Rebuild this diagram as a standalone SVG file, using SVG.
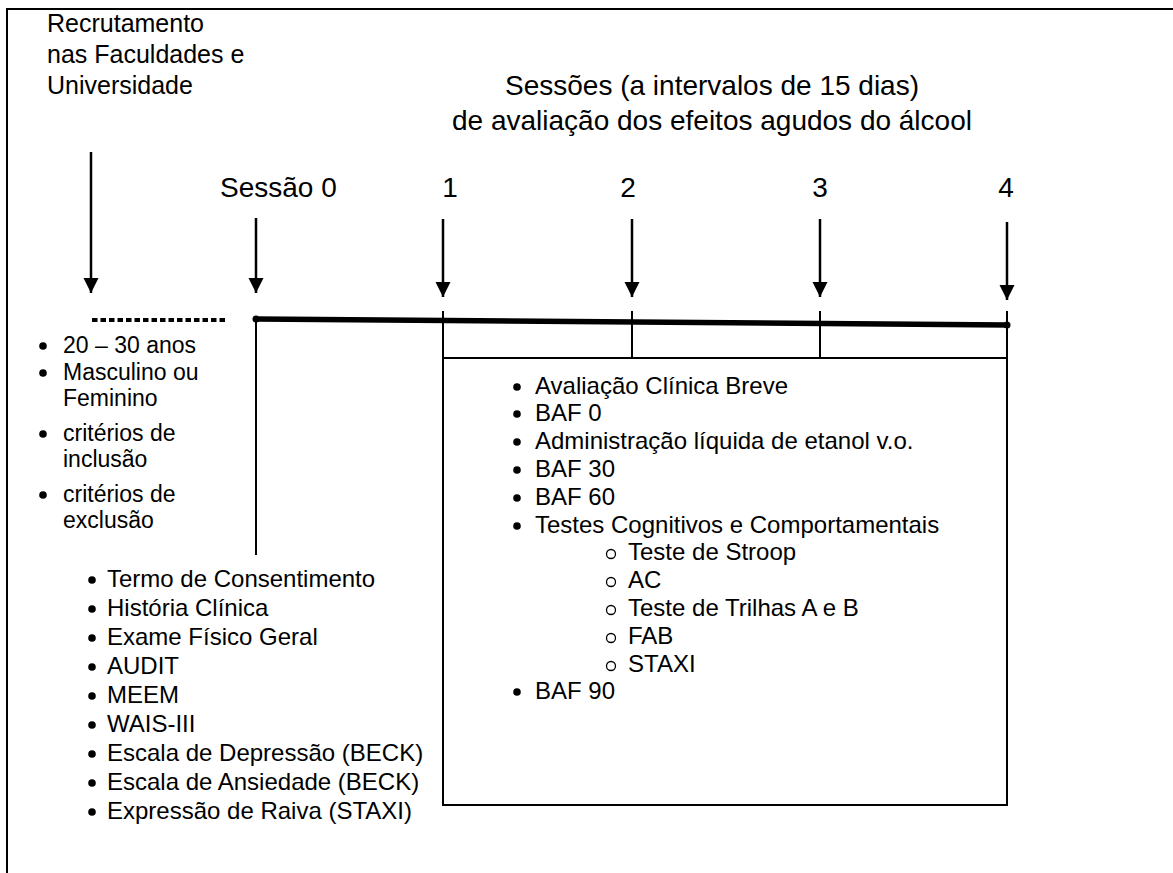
<svg xmlns="http://www.w3.org/2000/svg" width="1173" height="873" viewBox="0 0 1173 873">
<style>
text{font-family:"Liberation Sans",Arial,sans-serif;fill:#000}
.t{font-size:25px}
.h{font-size:28px}
.l{font-size:24px}
.s{font-size:23px}
.ln{stroke:#000;stroke-width:2;fill:none}
.ar{stroke:#000;stroke-width:2.5;fill:none}
.b{fill:#000}
.o{fill:none;stroke:#000;stroke-width:1.3}
</style>
<defs>
<marker id="ah" viewBox="0 0 10 10" refX="10" refY="5" markerWidth="6" markerHeight="6.5" markerUnits="strokeWidth" orient="auto"><path d="M0,0 L10,5 L0,10 z" fill="#000"/></marker>
</defs>
<rect width="1173" height="873" fill="#fff"/>
<path class="ln" d="M7,873 V9 H1173"/>

<g id="recrutamento">
<text class="t" x="47" y="32">Recrutamento</text>
<text class="t" x="47" y="63">nas Faculdades e</text>
<text class="t" x="47" y="94">Universidade</text>
</g>

<g id="titulo">
<text class="h" x="712" y="95" text-anchor="middle">Sessões (a intervalos de 15 dias)</text>
<text class="h" x="712" y="130" text-anchor="middle">de avaliação dos efeitos agudos do álcool</text>
</g>

<g id="labels">
<text class="h" x="220" y="197">Sessão 0</text>
<text class="h" x="450" y="197" text-anchor="middle">1</text>
<text class="h" x="628" y="197" text-anchor="middle">2</text>
<text class="h" x="820" y="197" text-anchor="middle">3</text>
<text class="h" x="1006" y="197" text-anchor="middle">4</text>
</g>

<g id="connectors">
<line class="ar" x1="91" y1="152" x2="91" y2="293" marker-end="url(#ah)"/>
<line class="ar" x1="256" y1="218" x2="256" y2="293" marker-end="url(#ah)"/>
<line class="ar" x1="443" y1="219" x2="443" y2="297" marker-end="url(#ah)"/>
<line class="ar" x1="632" y1="219" x2="632" y2="297" marker-end="url(#ah)"/>
<line class="ar" x1="820" y1="219" x2="820" y2="297" marker-end="url(#ah)"/>
<line class="ar" x1="1007" y1="222" x2="1007" y2="300" marker-end="url(#ah)"/>
<line x1="92" y1="320" x2="228" y2="320" stroke="#000" stroke-width="4" stroke-dasharray="5.5 3"/>
<line x1="256" y1="319" x2="1007" y2="325" stroke="#000" stroke-width="5.5"/>
<circle cx="256" cy="319" r="3.5" class="b"/>
<circle cx="1007" cy="325" r="3.5" class="b"/>
<line class="ln" x1="256" y1="319" x2="256" y2="555"/>
</g>

<g id="box">
<path class="ln" d="M443,311 V805 H1007 V311 M443,358 H1007 M632,311 V358 M820,311 V358"/>
</g>

<g id="criterios">
<circle class="b" cx="43" cy="346" r="3.8"/>
<text class="s" x="63" y="353">20 – 30 anos</text>
<circle class="b" cx="43" cy="373" r="3.8"/>
<text class="s" x="63" y="380">Masculino ou</text>
<text class="s" x="63" y="406">Feminino</text>
<circle class="b" cx="43" cy="434" r="3.8"/>
<text class="s" x="63" y="441">critérios de</text>
<text class="s" x="63" y="467">inclusão</text>
<circle class="b" cx="43" cy="495" r="3.8"/>
<text class="s" x="63" y="502">critérios de</text>
<text class="s" x="63" y="528">exclusão</text>
</g>

<g id="sessao0">
<circle class="b" cx="92" cy="580" r="3.8"/><text class="l" x="107" y="587">Termo de Consentimento</text>
<circle class="b" cx="92" cy="609" r="3.8"/><text class="l" x="107" y="616">História Clínica</text>
<circle class="b" cx="92" cy="638" r="3.8"/><text class="l" x="107" y="645">Exame Físico Geral</text>
<circle class="b" cx="92" cy="667" r="3.8"/><text class="l" x="107" y="674">AUDIT</text>
<circle class="b" cx="92" cy="696" r="3.8"/><text class="l" x="107" y="703">MEEM</text>
<circle class="b" cx="92" cy="725" r="3.8"/><text class="l" x="107" y="732">WAIS-III</text>
<circle class="b" cx="92" cy="754" r="3.8"/><text class="l" x="107" y="761">Escala de Depressão (BECK)</text>
<circle class="b" cx="92" cy="783" r="3.8"/><text class="l" x="107" y="790">Escala de Ansiedade (BECK)</text>
<circle class="b" cx="92" cy="812" r="3.8"/><text class="l" x="107" y="819">Expressão de Raiva (STAXI)</text>
</g>

<g id="sessoes">
<circle class="b" cx="517" cy="387" r="3.8"/><text class="l" x="535" y="394">Avaliação Clínica Breve</text>
<circle class="b" cx="517" cy="414" r="3.8"/><text class="l" x="535" y="421">BAF 0</text>
<circle class="b" cx="517" cy="442" r="3.8"/><text class="l" x="535" y="449">Administração líquida de etanol v.o.</text>
<circle class="b" cx="517" cy="470" r="3.8"/><text class="l" x="535" y="477">BAF 30</text>
<circle class="b" cx="517" cy="498" r="3.8"/><text class="l" x="535" y="505">BAF 60</text>
<circle class="b" cx="517" cy="526" r="3.8"/><text class="l" x="535" y="533">Testes Cognitivos e Comportamentais</text>
<circle class="o" cx="611" cy="554" r="4.5"/><text class="l" x="628" y="560">Teste de Stroop</text>
<circle class="o" cx="611" cy="582" r="4.5"/><text class="l" x="628" y="588">AC</text>
<circle class="o" cx="611" cy="610" r="4.5"/><text class="l" x="628" y="616">Teste de Trilhas A e B</text>
<circle class="o" cx="611" cy="638" r="4.5"/><text class="l" x="628" y="644">FAB</text>
<circle class="o" cx="611" cy="666" r="4.5"/><text class="l" x="628" y="672">STAXI</text>
<circle class="b" cx="517" cy="692" r="3.8"/><text class="l" x="535" y="699">BAF 90</text>
</g>
</svg>
